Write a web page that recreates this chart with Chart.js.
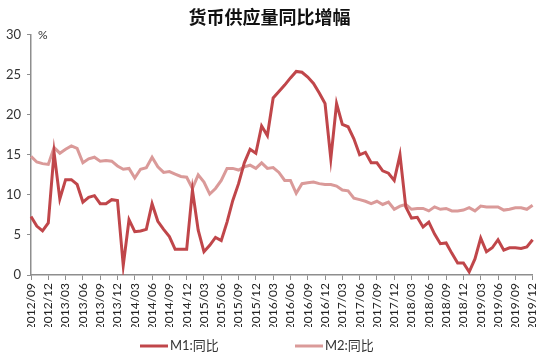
<!DOCTYPE html>
<html>
<head>
<meta charset="utf-8">
<script src="https://cdn.jsdelivr.net/npm/chart.js@4.4.0/dist/chart.umd.min.js"></script>
<style>
    html, body { margin: 0; padding: 0; background: #fff; }
</style>
</head>
<body>
<canvas id="moneyChart" width="550" height="360"></canvas>
<script>
// ------------------ DONNEES ------------------
const months = [
    '2012/09', '2012/10', '2012/11', '2012/12',
    '2013/01', '2013/02', '2013/03', '2013/04', '2013/05', '2013/06', '2013/07', '2013/08', '2013/09', '2013/10', '2013/11', '2013/12',
    '2014/01', '2014/02', '2014/03', '2014/04', '2014/05', '2014/06', '2014/07', '2014/08', '2014/09', '2014/10', '2014/11', '2014/12',
    '2015/01', '2015/02', '2015/03', '2015/04', '2015/05', '2015/06', '2015/07', '2015/08', '2015/09', '2015/10', '2015/11', '2015/12',
    '2016/01', '2016/02', '2016/03', '2016/04', '2016/05', '2016/06', '2016/07', '2016/08', '2016/09', '2016/10', '2016/11', '2016/12',
    '2017/01', '2017/02', '2017/03', '2017/04', '2017/05', '2017/06', '2017/07', '2017/08', '2017/09', '2017/10', '2017/11', '2017/12',
    '2018/01', '2018/02', '2018/03', '2018/04', '2018/05', '2018/06', '2018/07', '2018/08', '2018/09', '2018/10', '2018/11', '2018/12',
    '2019/01', '2019/02', '2019/03', '2019/04', '2019/05', '2019/06', '2019/07', '2019/08', '2019/09', '2019/10', '2019/11', '2019/12'
];

const m1 = [
    7.3, 6.1, 5.5, 6.5,
    15.3, 9.5, 11.9, 11.9, 11.3, 9.1, 9.7, 9.9, 8.9, 8.9, 9.4, 9.3,
    1.2, 6.9, 5.4, 5.5, 5.7, 8.9, 6.7, 5.7, 4.8, 3.2, 3.2, 3.2,
    10.6, 5.6, 2.9, 3.7, 4.7, 4.3, 6.6, 9.3, 11.4, 14.0, 15.7, 15.2,
    18.6, 17.4, 22.1, 22.9, 23.7, 24.6, 25.4, 25.3, 24.7, 23.9, 22.7, 21.4,
    14.5, 21.4, 18.8, 18.5, 17.0, 15.0, 15.3, 14.0, 14.0, 13.0, 12.7, 11.8,
    15.0, 8.5, 7.1, 7.2, 6.0, 6.6, 5.1, 3.9, 4.0, 2.7, 1.5, 1.5,
    0.4, 2.0, 4.6, 2.9, 3.4, 4.4, 3.1, 3.4, 3.4, 3.3, 3.5, 4.4
];

const m2 = [
    14.8, 14.1, 13.9, 13.8,
    15.9, 15.2, 15.7, 16.1, 15.8, 14.0, 14.5, 14.7, 14.2, 14.3, 14.2, 13.6,
    13.2, 13.3, 12.1, 13.2, 13.4, 14.7, 13.5, 12.8, 12.9, 12.6, 12.3, 12.2,
    10.8, 12.5, 11.6, 10.1, 10.8, 11.8, 13.3, 13.3, 13.1, 13.5, 13.7, 13.3,
    14.0, 13.3, 13.4, 12.8, 11.8, 11.8, 10.2, 11.4, 11.5, 11.6, 11.4, 11.3,
    11.3, 11.1, 10.6, 10.5, 9.6, 9.4, 9.2, 8.9, 9.2, 8.8, 9.1, 8.2,
    8.6, 8.8, 8.2, 8.3, 8.3, 8.0, 8.5, 8.2, 8.3, 8.0, 8.0, 8.1,
    8.4, 8.0, 8.6, 8.5, 8.5, 8.5, 8.1, 8.2, 8.4, 8.4, 8.2, 8.7
];

const yTicks = [0, 5, 10, 15, 20, 25, 30];

// ------------------ STYLE ------------------
const axisColor = '#8e8e8e';
const textFont = "Lato, 'Noto Sans CJK SC', sans-serif";

// Petit "%" en haut de l'axe Y
const percentLabel = {
    id: 'percentLabel',
    afterDraw(chart) {
        const { ctx, chartArea } = chart;
        ctx.save();
        ctx.font = "12px " + textFont;
        ctx.fillStyle = '#333';
        ctx.textBaseline = 'middle';
        ctx.fillText('%', chartArea.left + 7, chartArea.top + 1);
        ctx.restore();
    }
};

// Légende dessinée à la main (écart horizontal large entre les deux séries)
const bottomLegend = {
    id: 'bottomLegend',
    afterDraw(chart) {
        const { ctx } = chart;
        const y = 346;
        const starts = [140, 295];
        ctx.save();
        ctx.font = "13px " + textFont;
        ctx.textBaseline = 'middle';
        chart.data.datasets.forEach((ds, i) => {
            const x = starts[i];
            ctx.strokeStyle = ds.borderColor;
            ctx.lineWidth = 3;
            ctx.beginPath();
            ctx.moveTo(x, y);
            ctx.lineTo(x + 28, y);
            ctx.stroke();
            ctx.fillStyle = '#333';
            ctx.fillText(ds.label, x + 30, y);
        });
        ctx.restore();
    }
};

const ctx = document.getElementById('moneyChart').getContext('2d');
new Chart(ctx, {
    type: 'line',
    data: {
        labels: months,
        datasets: [
            {
                label: 'M1:同比',
                data: m1,
                borderColor: '#c0464a',
                backgroundColor: '#c0464a',
                borderWidth: 3,
                pointRadius: 0,
                tension: 0
            },
            {
                label: 'M2:同比',
                data: m2,
                borderColor: '#da9a99',
                backgroundColor: '#da9a99',
                borderWidth: 3,
                pointRadius: 0,
                tension: 0
            }
        ]
    },
    options: {
        responsive: false,
        animation: false,
        layout: { padding: { left: 0, right: 11, top: 0, bottom: 33 } },
        plugins: {
            title: {
                display: true,
                text: '货币供应量同比增幅',
                color: '#111',
                font: { family: "'Noto Sans CJK SC'", size: 18, weight: 'bold' },
                padding: { top: 6, bottom: 7 }
            },
            legend: { display: false },
            tooltip: { enabled: false }
        },
        scales: {
            x: {
                offset: false,
                grid: { display: true, drawOnChartArea: false, drawTicks: true, tickLength: 5, color: axisColor },
                border: { color: axisColor, width: 1.5 },
                ticks: {
                    autoSkip: false,
                    minRotation: 90,
                    maxRotation: 90,
                    padding: 3,
                    color: '#222',
                    font: { family: textFont, size: 12 },
                    callback: (v, i) => (i % 3 === 0 ? months[i] : null)
                },
                afterFit: s => { s.height = 52; }
            },
            y: {
                min: 0,
                max: 30,
                afterBuildTicks: s => { s.ticks = yTicks.map(v => ({ value: v })); },
                grid: { display: true, drawOnChartArea: false, drawTicks: true, tickLength: 4, color: axisColor },
                border: { color: axisColor, width: 1.5 },
                ticks: {
                    padding: 6,
                    color: '#333',
                    font: { family: textFont, size: 13 }
                },
                afterFit: s => { s.width = 31; }
            }
        }
    },
    plugins: [percentLabel, bottomLegend]
});
</script>
</body>
</html>
